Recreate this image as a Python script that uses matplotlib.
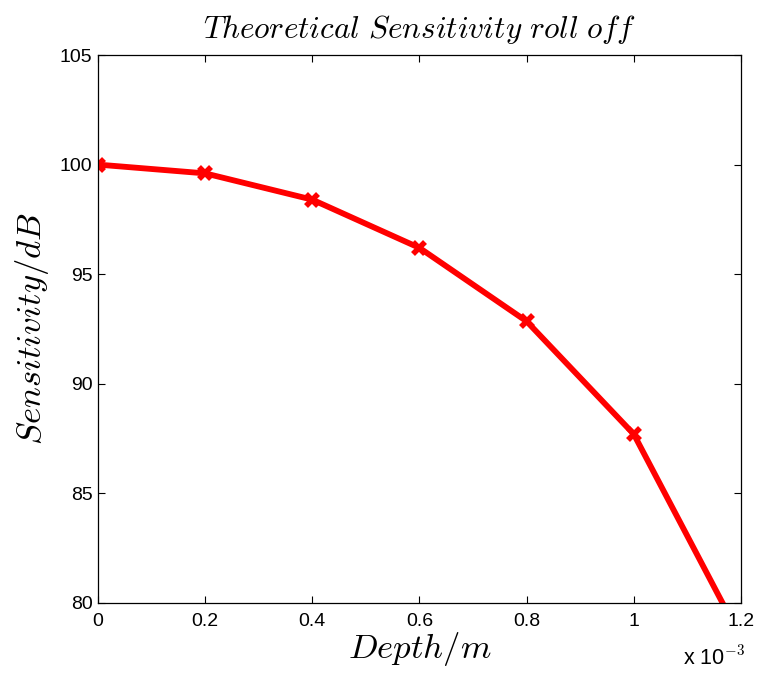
import matplotlib
matplotlib.use("Agg")
import matplotlib.pyplot as plt
from matplotlib.ticker import FuncFormatter

# Depth (m) and theoretical sensitivity (dB)
depth = [0.0, 0.2e-3, 0.4e-3, 0.6e-3, 0.8e-3, 1.0e-3, 1.2e-3]
sensitivity = [100.0, 99.6, 98.4, 96.2, 92.85, 87.7, 78.4]

x_ticks = [0.0, 0.2e-3, 0.4e-3, 0.6e-3, 0.8e-3, 1.0e-3, 1.2e-3]
y_ticks = [80, 85, 90, 95, 100, 105]

plt.rcParams["mathtext.fontset"] = "cm"
plt.rcParams["font.family"] = ["Liberation Sans", "DejaVu Sans"]

fig = plt.figure(figsize=(7.62, 6.75), dpi=100)
ax = fig.add_axes([0.1286, 0.1067, 0.8438, 0.8118])

ax.plot(depth, sensitivity, color="red", linewidth=4.2,
        marker="x", markersize=9, markeredgewidth=4.0, solid_joinstyle="miter")

ax.set_xlim(0, 1.2e-3)
ax.set_ylim(80, 105)
ax.set_xticks(x_ticks)
ax.set_yticks(y_ticks)
ax.xaxis.set_major_formatter(FuncFormatter(lambda v, p: "%g" % round(v * 1e3, 6)))

ax.tick_params(direction="in", length=5, width=0.8, top=True, right=True,
               labelsize=14, colors="black")
ax.tick_params(axis="x", pad=7)
ax.tick_params(axis="y", pad=4)
for s in ax.spines.values():
    s.set_linewidth(0.9)

ax.set_title(r"$\mathit{Theoretical\ Sensitivity\ roll\ off}$", fontsize=22.5, pad=12)
ax.set_xlabel(r"$Depth/m$", fontsize=25, labelpad=0)
ax.set_ylabel(r"$Sensitivity/dB$", fontsize=25, labelpad=6)

fig.text(0.937, 0.026, r"x 10$^{-3}$", fontsize=15.5, ha="center", va="center")

fig.savefig("out.png", dpi=100, facecolor="white")
